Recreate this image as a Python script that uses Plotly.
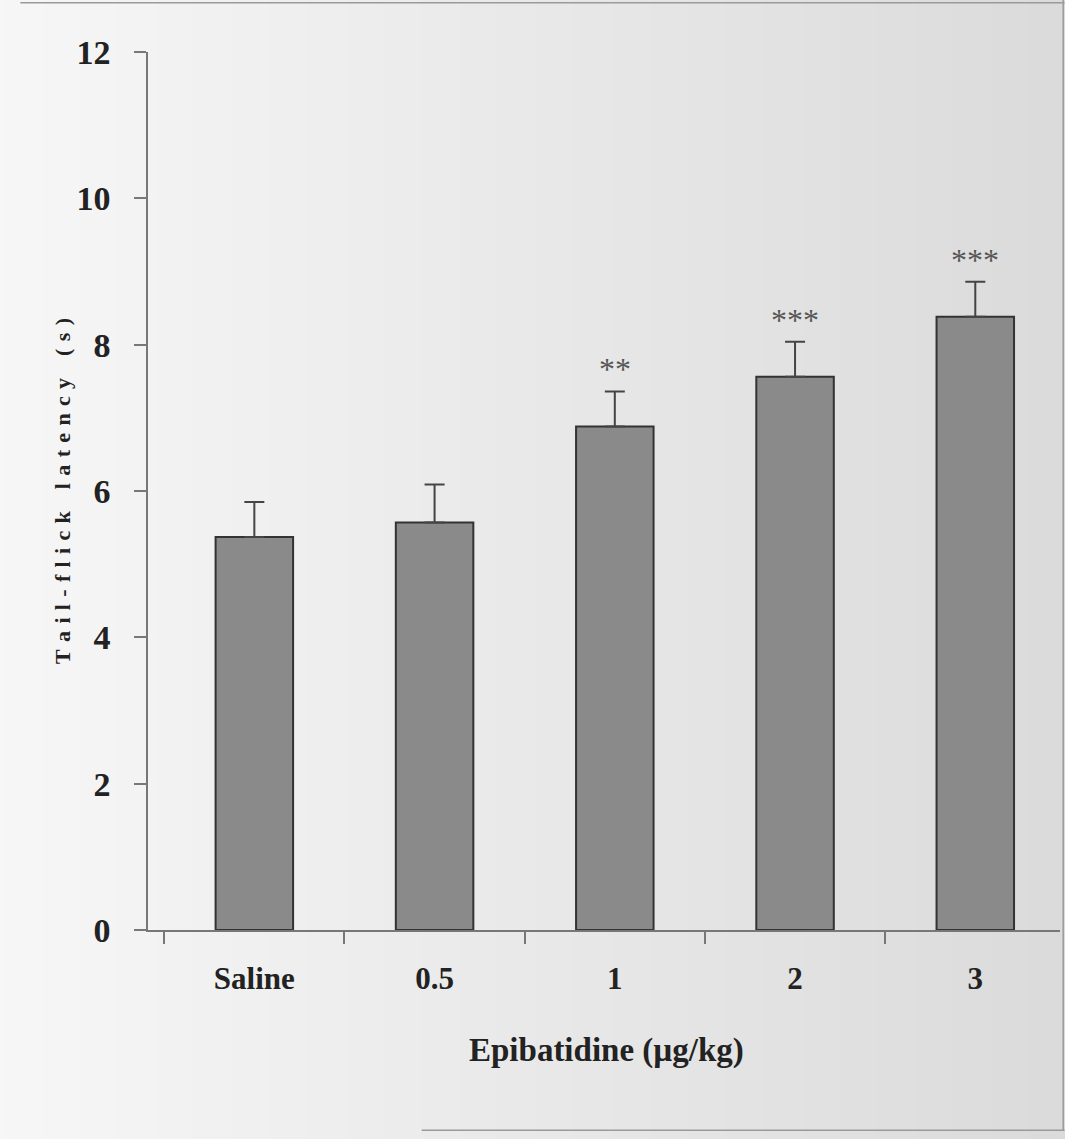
import plotly.graph_objects as go

categories = ["Saline", "0.5", "1", "2", "3"]
latency = [5.37, 5.57, 6.88, 7.56, 8.38]
sem = [0.48, 0.52, 0.48, 0.48, 0.48]
stars = ["", "", "**", "***", "***"]
y_ticks = [0, 2, 4, 6, 8, 10, 12]

fig = go.Figure()

# scanned-paper background: stepped gray gradient from left (white) to right (gray)
n_steps = 30
for k in range(n_steps):
    t = k / (n_steps - 1)
    v = int(247 - 28 * t)
    fig.add_shape(type="rect", xref="paper", yref="paper",
                  x0=-0.2 + 1.25 * k / n_steps, x1=-0.2 + 1.25 * (k + 1) / n_steps + 0.002,
                  y0=-0.3, y1=1.1, line=dict(width=0),
                  fillcolor=f"rgb({v},{v},{v})", layer="below")

# scan edges
for x0, y0, x1, y1 in [(-0.14, 1.056, 1.005, 1.056), (1.0035, 1.06, 1.0035, -0.228),
                       (0.30, -0.228, 1.005, -0.228)]:
    fig.add_shape(type="line", xref="paper", yref="paper", x0=x0, y0=y0, x1=x1, y1=y1,
                  line=dict(color="#9a9a9a", width=1.5), layer="below")

fig.add_trace(go.Bar(
    x=categories, y=latency, width=0.43,
    marker=dict(color="#8a8a8a", line=dict(color="#333333", width=2)),
    error_y=dict(type="data", array=sem, arrayminus=[0] * len(sem), symmetric=False,
                 color="#444444", thickness=2, width=10),
    showlegend=False,
))

for i, s in enumerate(stars):
    if s:
        fig.add_annotation(x=i, y=latency[i] + sem[i], text=s, showarrow=False,
                           yanchor="bottom", yshift=2,
                           font=dict(family="Liberation Serif", size=32, color="#555555"))

fig.add_annotation(xref="paper", yref="paper", x=0.503, y=-0.137, yanchor="middle",
                   text="Epibatidine (µg/kg)", showarrow=False,
                   font=dict(family="Liberation Serif", size=33, color="#222222", weight="bold"))

sp = "\u2004"
ytitle = "\u2002\u2002".join(sp.join(list(w)) for w in ["Tail-flick", "latency", "(s)"])

fig.update_layout(
    width=1065, height=1139,
    margin=dict(l=148, r=5, t=52, b=209),
    paper_bgcolor="#efefef", plot_bgcolor="rgba(0,0,0,0)",
    xaxis=dict(
        type="category",
        range=[-0.59, 4.47], showline=True, linecolor="#777777", linewidth=1.5,
        ticks="outside", tickson="boundaries", ticklen=12, tickcolor="#777777", tickwidth=1.5,
        ticklabelstandoff=20, showgrid=False, zeroline=False,
        tickfont=dict(family="Liberation Serif", size=31, color="#222222", weight="bold"),
    ),
    yaxis=dict(
        range=[0, 12], tickvals=y_ticks, showline=True, linecolor="#777777", linewidth=1.5,
        ticks="outside", ticklen=12, tickcolor="#777777", tickwidth=1.5,
        showgrid=False, zeroline=False, ticklabelstandoff=17,
        tickfont=dict(family="Liberation Serif", size=34, color="#222222", weight="bold"),
        title=dict(text=ytitle, standoff=0,
                   font=dict(family="Liberation Serif", size=22, color="#222222", weight="bold")),
    ),
)

fig.write_html("out.html")
